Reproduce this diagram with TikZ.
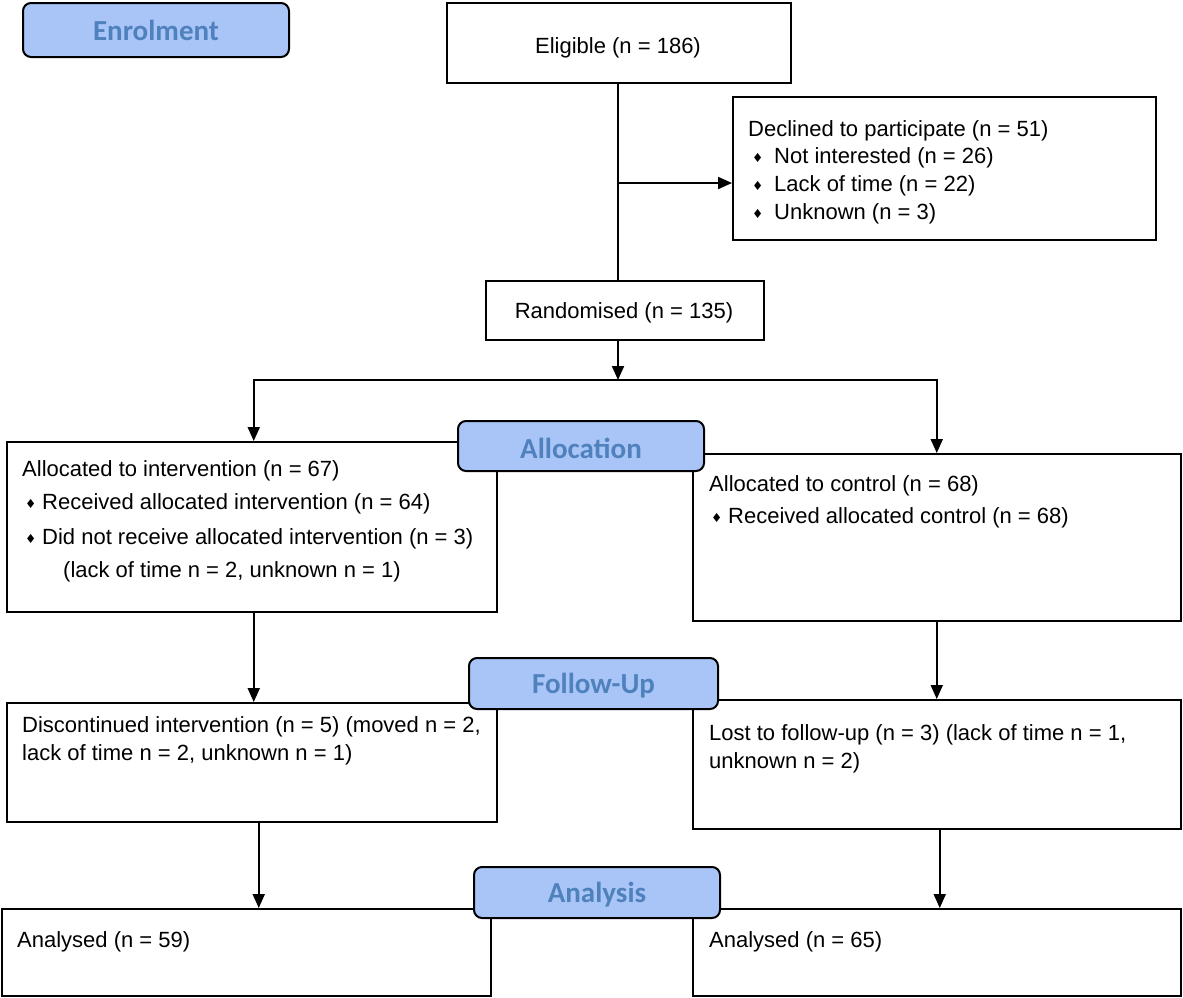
\documentclass[tikz,border=0pt]{standalone}
\usepackage{fontspec}
\setmainfont{Liberation Sans}
\newfontfamily\djv{DejaVu Sans}
\newfontfamily\stagefont{Carlito}
\usetikzlibrary{arrows.meta}
\newcommand\bul[1]{\makebox[#1][l]{\raisebox{1pt}{\djv\fontsize{12.5}{12}\selectfont ♦}}}
\newcommand\lowered[1]{\raisebox{-2.5pt}[\height][\depth]{#1}}
\definecolor{stagefill}{RGB}{169,197,247}
\definecolor{stagetext}{RGB}{79,129,189}
\begin{document}
\begin{tikzpicture}[x=1pt,y=-1pt,
  font=\fontsize{22}{26}\selectfont,
  box/.style={draw, line width=1.5pt, inner sep=0pt, anchor=north west},
  stage/.style={draw, line width=2pt, rounded corners=8pt, fill=stagefill, text=stagetext,
     font=\stagefont\bfseries\fontsize{29}{29}\selectfont, inner sep=0pt, anchor=north west},
  txt/.style={inner sep=0pt, anchor=base west},
  ctxt/.style={inner sep=0pt, anchor=base},
  arr/.style={line width=2pt, -{Triangle[length=14pt,width=12pt]}},
  ln/.style={line width=2pt}]
\useasboundingbox (0,0) rectangle (1183,997);

% boxes
\node[box, minimum width=344pt, minimum height=80pt] (elig) at (446,2) {};
\node[box, minimum width=423pt, minimum height=143pt] (decl) at (732,96) {};
\node[box, minimum width=278pt, minimum height=59pt] (rand) at (485,280) {};
\node[box, minimum width=490pt, minimum height=170pt] (allocL) at (6,441) {};
\node[box, minimum width=488pt, minimum height=167pt] (allocR) at (692,453) {};
\node[box, minimum width=490pt, minimum height=119pt] (folL) at (6,702) {};
\node[box, minimum width=488pt, minimum height=129pt] (folR) at (692,699) {};
\node[box, minimum width=489pt, minimum height=87pt] (anaL) at (1,908) {};
\node[box, minimum width=488pt, minimum height=87pt] (anaR) at (692,908) {};

% texts
\node[ctxt] (eligt) at (618,53) {Eligible (n = 186)};
\node[ctxt] (randt) at (624,318) {Randomised (n = 135)};

\node[txt] (d1) at (748,136) {Declined to participate (n = 51)};
\node[txt] (d2) at (752,163) {\bul{22pt}Not interested (n = 26)};
\node[txt] (d3) at (752,191) {\bul{22pt}Lack of time (n = 22)};
\node[txt] (d4) at (752,219) {\bul{22pt}Unknown (n = 3)};

\node[txt] (aL1) at (22,476) {Allocated to intervention (n = 67)};
\node[txt] (aL2) at (25,509) {\bul{17pt}Received allocated intervention (n = 64)};
\node[txt] (aL3) at (25,544) {\bul{17pt}Did not receive allocated intervention (n = 3)};
\node[txt] (aL4) at (63,577) {(lack of time n = 2, unknown n = 1)};

\node[txt] (aR1) at (709,491) {Allocated to control (n = 68)};
\node[txt] (aR2) at (711,523) {\bul{17pt}Received allocated control (n = 68)};

\node[txt] (fL1) at (22,732) {Discontinued intervention (n = 5) (moved n = 2,};
\node[txt] (fL2) at (22,760) {lack of time n = 2, unknown n = 1)};
\node[txt] (fR1) at (709,740) {Lost to follow-up (n = 3) (lack of time n = 1,};
\node[txt] (fR2) at (709,768) {unknown n = 2)};

\node[txt] (nL) at (17,947) {Analysed (n = 59)};
\node[txt] (nR) at (709,947) {Analysed (n = 65)};

% connectors
\coordinate (br) at (618,183);
\coordinate (junc) at (618,380);
\draw[ln] (elig.south -| br) -- (rand.north -| br);
\draw[arr] (br) -- (br -| decl.west);
\draw[arr] (rand.south -| junc) -- (junc);
\draw[arr] (junc) -| ([xshift=2pt]allocL.north);
\draw[arr] (junc) -| (allocR.north);
\draw[arr] ([xshift=2pt]allocL.south) -- ([xshift=2pt]allocL.south |- folL.north);
\draw[arr] (allocR.south) -- (allocR.south |- folR.north);
\draw[arr] ([xshift=7pt]folL.south) -- ([xshift=7pt]folL.south |- anaL.north);
\draw[arr] ([xshift=3pt]folR.south) -- ([xshift=3pt]folR.south |- anaR.north);

% stage labels
\node[stage, minimum width=266pt, minimum height=54pt] (enrol) at (22,2) {Enrolment};
\node[stage, minimum width=246pt, minimum height=50pt] (alloc) at (457,420) {\lowered{Allocation}};
\node[stage, minimum width=249pt, minimum height=51pt] (follow) at (468,657) {\lowered{Follow-Up}};
\node[stage, minimum width=246pt, minimum height=51pt] (analysis) at (473,866) {\lowered{Analysis}};
\end{tikzpicture}
\end{document}
